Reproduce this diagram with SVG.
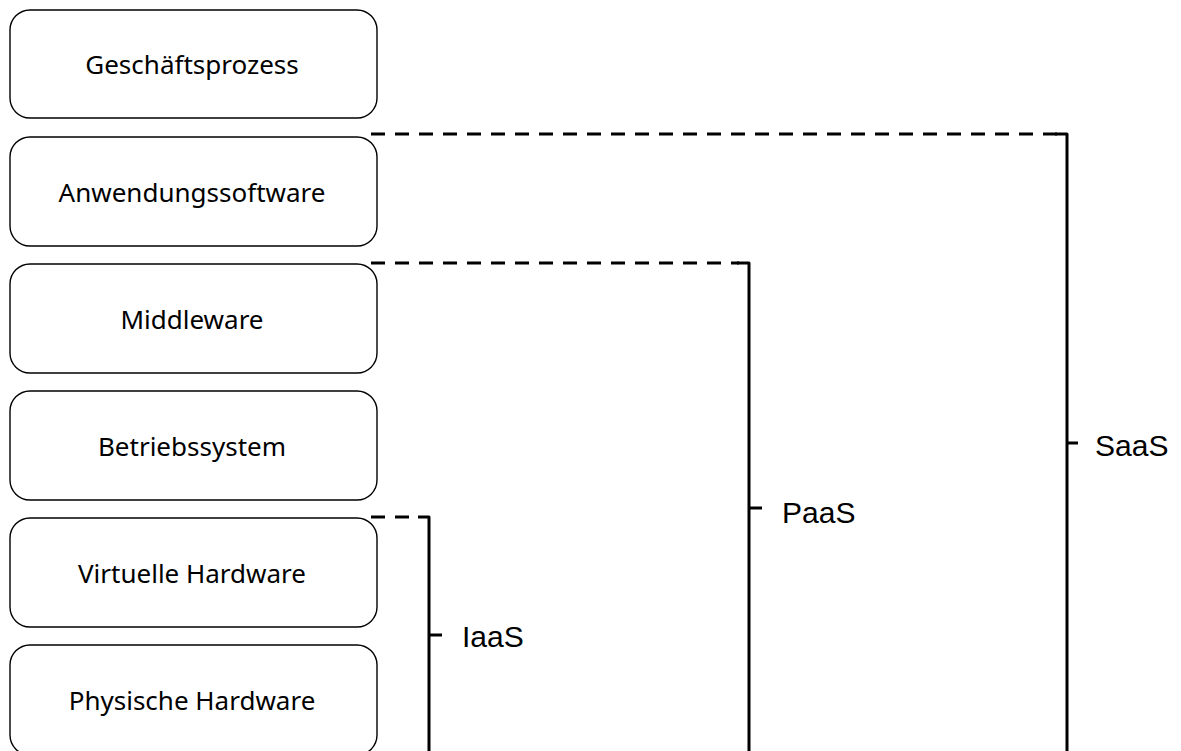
<svg xmlns="http://www.w3.org/2000/svg" width="1181" height="751" viewBox="0 0 1181 751">
  <style>
    .layer rect { fill: #ffffff; stroke: #000000; stroke-width: 1.4; }
    .layer text { font-family: "Noto Sans", "Open Sans", sans-serif; font-size: 26px; fill: #000000; text-anchor: middle; }
    .dash { fill: none; stroke: #000000; stroke-width: 3; stroke-dasharray: 14 10; }
    .brace { fill: none; stroke: #000000; stroke-width: 3; stroke-linejoin: round; }
    .label { font-family: "Liberation Sans", Arial, sans-serif; font-size: 30px; fill: #000000; }
  </style>
  <rect width="1181" height="751" fill="#ffffff"/>

  <!-- Layer stack -->
  <g id="geschaeftsprozess" class="layer">
    <rect x="10" y="10" width="367" height="108" rx="20" ry="20"/>
    <text x="192" y="74">Geschäftsprozess</text>
  </g>
  <g id="anwendungssoftware" class="layer">
    <rect x="10" y="137" width="367" height="109" rx="20" ry="20"/>
    <text x="192" y="202">Anwendungssoftware</text>
  </g>
  <g id="middleware" class="layer">
    <rect x="10" y="264" width="367" height="109" rx="20" ry="20"/>
    <text x="192" y="329">Middleware</text>
  </g>
  <g id="betriebssystem" class="layer">
    <rect x="10" y="391" width="367" height="109" rx="20" ry="20"/>
    <text x="192" y="456">Betriebssystem</text>
  </g>
  <g id="virtuelle-hardware" class="layer">
    <rect x="10" y="518" width="367" height="109" rx="20" ry="20"/>
    <text x="192" y="583">Virtuelle Hardware</text>
  </g>
  <g id="physische-hardware" class="layer">
    <rect x="10" y="645" width="367" height="110" rx="20" ry="20"/>
    <text x="192" y="710">Physische Hardware</text>
  </g>

  <!-- Service model brackets -->
  <g id="connectors">
    <path class="dash" d="M371 134 H1057"/>
    <path class="brace" d="M1055 134 H1067 V751 M1067 443 H1078"/>

    <path class="dash" d="M371 263 H739"/>
    <path class="brace" d="M737 263 H749 V751 M749 508 H762"/>

    <path class="dash" d="M371 517 H419"/>
    <path class="brace" d="M418 517 H429 V751 M429 635 H442"/>
  </g>

  <g id="saas"><text class="label" x="1095" y="456">SaaS</text></g>
  <g id="paas"><text class="label" x="782" y="523">PaaS</text></g>
  <g id="iaas"><text class="label" x="462" y="647">IaaS</text></g>
</svg>
